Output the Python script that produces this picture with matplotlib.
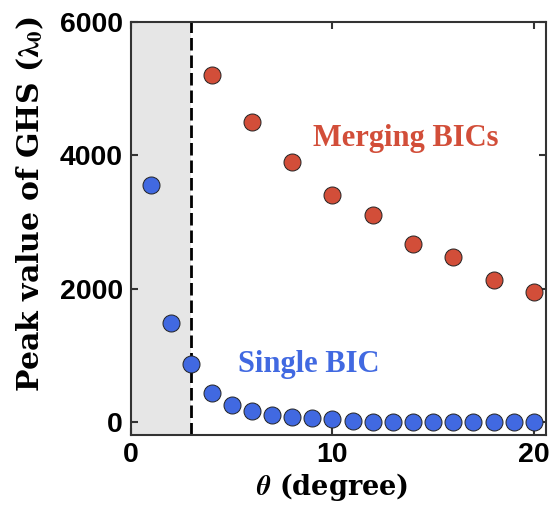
import matplotlib
matplotlib.use("Agg")
import matplotlib.pyplot as plt

plt.rcParams['mathtext.fontset'] = 'stix'

# Single BIC (blue), one point per degree
theta_single = [1, 2, 3, 4, 5, 6, 7, 8, 9, 10, 11, 12, 13, 14, 15, 16, 17, 18, 19, 20]
peak_single = [3555, 1490, 880, 445, 260, 170, 110, 85, 60, 45, 20, 10, 8, 6, 5, 5, 4, 4, 3, 3]

# Merging BICs (red), every two degrees
theta_merge = [4, 6, 8, 10, 12, 14, 16, 18, 20]
peak_merge = [5200, 4500, 3905, 3405, 3105, 2680, 2480, 2130, 1960]

xticks = [0, 10, 20]
yticks = [0, 2000, 4000, 6000]

red = '#D24E39'
blue = '#4169E1'

fig = plt.figure(figsize=(5.54, 5.08), dpi=100)
ax = fig.add_axes([0.2365, 0.1437, 0.749, 0.813])

# shaded region and boundary at 3 degree
ax.axvspan(0, 3, color='#E6E6E6', zorder=0, lw=0)
ax.axvline(3, color='black', lw=2, ls=(0, (4.5, 1.8)), zorder=1)

ax.scatter(theta_single, peak_single, s=150, color=blue, edgecolor='#222222',
           linewidth=0.7, zorder=3, clip_on=False)
ax.scatter(theta_merge, peak_merge, s=150, color=red, edgecolor='#222222',
           linewidth=0.7, zorder=3, clip_on=False)

ax.text(13.65, 4260, 'Merging BICs', color=red, fontsize=22, fontweight='bold',
        family='Liberation Serif', ha='center', va='center')
ax.text(8.8, 860, 'Single BIC', color=blue, fontsize=22, fontweight='bold',
        family='Liberation Serif', ha='center', va='center')

ax.set_xlim(0, 20.6)
ax.set_ylim(-190, 6000)
ax.set_xticks(xticks)
ax.set_yticks(yticks)
ax.tick_params(direction='in', length=5, width=1.5, top=True, right=True,
               labelsize=20.5, color='#333333')
ax.tick_params(axis='y', pad=6)
ax.tick_params(axis='x', pad=5)
for lab in ax.get_xticklabels() + ax.get_yticklabels():
    lab.set_fontweight('bold')
    lab.set_family('Liberation Sans')
for sp in ax.spines.values():
    sp.set_linewidth(1.5)
    sp.set_color('#333333')

ax.set_xlabel(r'$\boldsymbol{\theta}$ (degree)', fontsize=19.5, fontweight='bold',
              family='DejaVu Serif', labelpad=2.5)
ax.set_ylabel(r'Peak value of GHS ($\boldsymbol{\lambda}_\mathbf{0}$)', fontsize=21.5,
              fontweight='bold', family='DejaVu Serif', labelpad=10)
ax.xaxis.label.set_x(0.485)
ax.yaxis.label.set_y(0.56)

fig.savefig('out.png', dpi=100)
